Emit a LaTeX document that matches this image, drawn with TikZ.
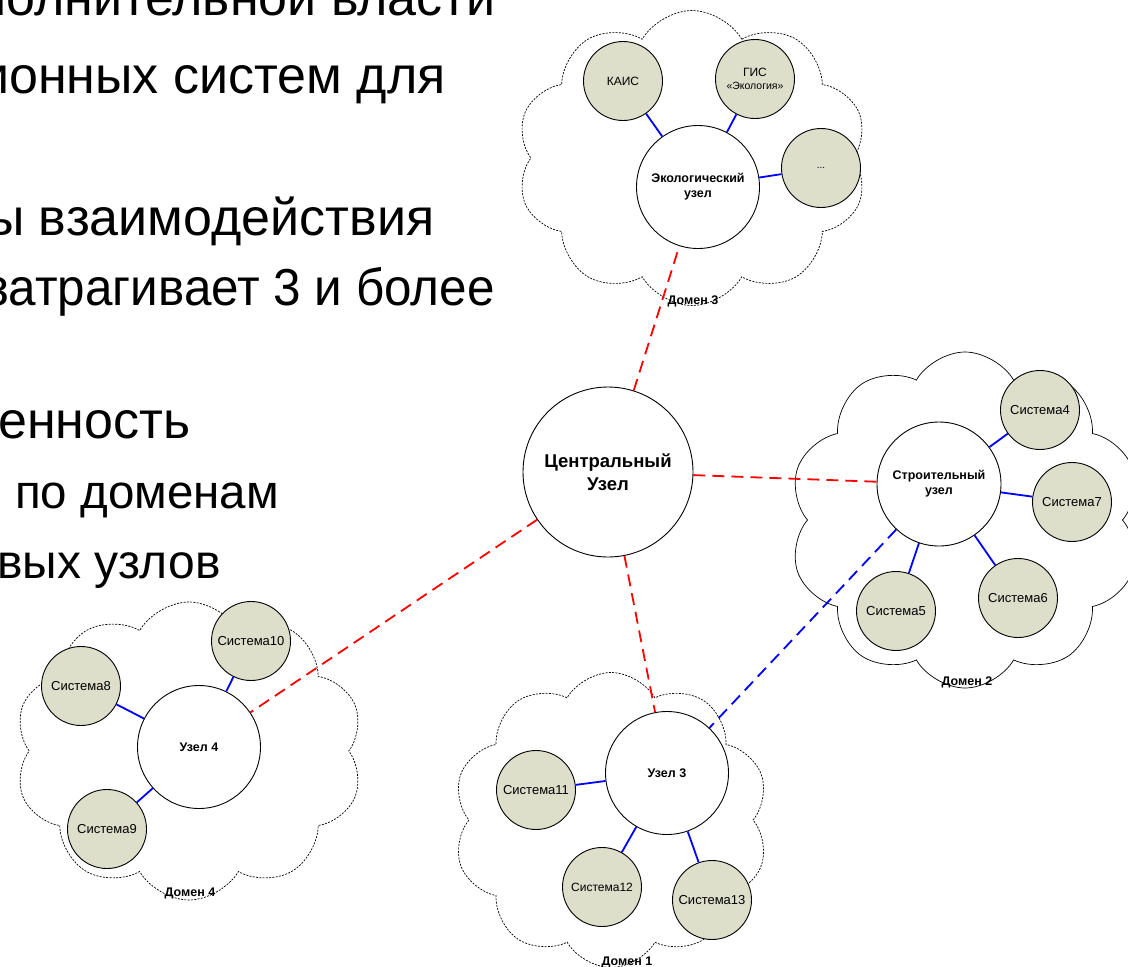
\documentclass[tikz,border=0pt]{standalone}
\usepackage{fontspec}
\setmainfont{Liberation Sans}
\newfontfamily\slidefont{Liberation Sans}
\newfontfamily\slidefontnarrow[FakeStretch=0.95]{Liberation Sans}
\usetikzlibrary{shapes.symbols}
\definecolor{sysfill}{RGB}{221,223,203}
\newcommand{\bigtext}{\slidefont\fontsize{52}{60}\selectfont}
\newcommand{\hubtext}{\bfseries\fontsize{12.5}{15}\selectfont}
\newcommand{\systext}{\fontsize{13}{15.5}\selectfont}
\tikzset{
    slide/.style={font=\bigtext, inner sep=0pt, anchor=base west},
    hub/.style={circle, draw=black, fill=white, line width=0.9pt, inner sep=0pt,
        align=center, font=\hubtext},
    sys/.style={circle, draw=black, fill=sysfill, line width=0.9pt, inner sep=0pt,
        minimum size=79pt, align=center, font=\systext},
    domcloud/.style={cloud, cloud puffs=10, cloud puff arc=120, cloud ignores aspect,
        draw=black, line width=0.7pt, inner sep=0pt},
    fine/.style={dash pattern=on 2pt off 1.3pt},
    domlabel/.style={font=\hubtext, inner sep=1pt},
    link/.style={draw=blue, line width=1.8pt},
    trunk/.style={draw=red, line width=1.8pt, dash pattern=on 12pt off 7pt},
    peer/.style={draw=blue, line width=1.8pt, dash pattern=on 12pt off 7pt},
}

\begin{document}
\begin{tikzpicture}[x=1pt, y=-1pt]
    \useasboundingbox (0,0) rectangle (1128,967);
    % Slide text, cut by the left edge
    \node[slide] (lineone) at (-22,15) {полнительной власти};
    \node[slide] (linetwo) at (-20,93) {ионных систем для};
    \node[slide] (linethree) at (-13,235) {ы взаимодействия};
    \node[slide, font=\slidefontnarrow\fontsize{52}{60}\selectfont]
        (linefour) at (-14,305) {затрагивает 3 и более};
    \node[slide] (linefive) at (-2,438) {енность};
    \node[slide, font=\slidefont\fontsize{47.5}{56}\selectfont] (linesix) at (15,508) {по доменам};
    \node[slide, font=\slidefont\fontsize{48}{56}\selectfont] (lineseven) at (-3,578) {вых узлов};
    % Domain clouds
    \node[domcloud, fine, minimum width=351pt, minimum height=295pt] (domthree) at (692,158) {};
    \node[domcloud, minimum width=352pt, minimum height=336pt] (domtwo) at (965,520) {};
    \node[domcloud, fine, minimum width=316pt, minimum height=295pt] (domone) at (611,820) {};
    \node[domcloud, fine, minimum width=349pt, minimum height=298pt] (domfour) at (189,751) {};
    \node[domlabel] (labthree) at (693,301) {Домен 3};
    \node[domlabel] (labtwo) at (967,682) {Домен 2};
    \node[domlabel] (labone) at (627,962) {Домен 1};
    \node[domlabel] (labfour) at (190,893) {Домен 4};
    % Hubs
    \node[hub, minimum size=170pt, font=\bfseries\fontsize{18.5}{23}\selectfont]
        (central) at (608,472) {Центральный\\Узел};
    \node[hub, minimum size=123pt] (eco) at (698,187) {Экологический\\узел};
    \node[hub, minimum size=124pt] (build) at (939,484) {Строительный\\узел};
    \node[hub, minimum size=123pt] (hubthree) at (667,773) {Узел 3};
    \node[hub, minimum size=123pt] (hubfour) at (199,747) {Узел 4};
    % Systems of domain 3
    \node[sys, font=\fontsize{12}{14}\selectfont] (kais) at (623,81) {КАИС};
    \node[sys, font=\fontsize{12}{14}\selectfont] (gis) at (755,79)
        {ГИС\\[-1pt]{\fontsize{10.5}{12}\selectfont«Экология»}};
    \node[sys, font=\fontsize{10}{12}\selectfont] (dots) at (821,168) {...};
    % Systems of domain 2
    \node[sys] (sysfour) at (1040,410) {Система4};
    \node[sys] (sysseven) at (1072,502) {Система7};
    \node[sys] (sysfive) at (896,611) {Система5};
    \node[sys] (syssix) at (1018,598) {Система6};
    % Systems of domain 1
    \node[sys] (syseleven) at (536,790) {Система11};
    \node[sys, font=\fontsize{12}{14}\selectfont] (systwelve) at (602,887) {Система12};
    \node[sys] (systhirteen) at (712,900) {Система13};
    % Systems of domain 4
    \node[sys] (syseight) at (81,686) {Система8};
    \node[sys] (systen) at (251,641) {Система10};
    \node[sys] (sysnine) at (107,829) {Система9};
    % Links between hubs
    \draw[trunk] (central) -- (eco);
    \draw[trunk] (central) -- (build);
    \draw[trunk] (central) -- (hubthree);
    \draw[trunk] (central) -- (hubfour);
    \draw[peer] (build) -- (hubthree);
    % Links inside the domains
    \draw[link] (kais) -- (eco);
    \draw[link] (gis) -- (eco);
    \draw[link] (dots) -- (eco);
    \draw[link] (sysfour) -- (build);
    \draw[link] (sysseven) -- (build);
    \draw[link] (sysfive) -- (build);
    \draw[link] (syssix) -- (build);
    \draw[link] (syseleven) -- (hubthree);
    \draw[link] (systwelve) -- (hubthree);
    \draw[link] (systhirteen) -- (hubthree);
    \draw[link] (syseight) -- (hubfour);
    \draw[link] (systen) -- (hubfour);
    \draw[link] (sysnine) -- (hubfour);
\end{tikzpicture}
\end{document}
